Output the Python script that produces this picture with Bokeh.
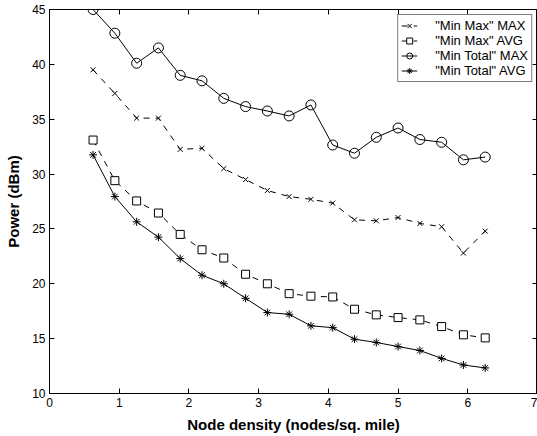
from bokeh.plotting import figure
from bokeh.models import LinearAxis, Range1d, FixedTicker, Legend, LegendItem
from bokeh.embed import file_html
from bokeh.resources import INLINE

x = [0.625, 0.9375, 1.25, 1.5625, 1.875, 2.1875, 2.5, 2.8125, 3.125, 3.4375,
     3.75, 4.0625, 4.375, 4.6875, 5.0, 5.3125, 5.625, 5.9375, 6.25]
minmax_max = [39.5, 37.35, 35.1, 35.1, 32.25, 32.35, 30.5, 29.5, 28.5, 27.95,
              27.7, 27.35, 25.83, 25.74, 26.04, 25.5, 25.2, 22.8, 24.8]
minmax_avg = [33.1, 29.4, 27.55, 26.45, 24.5, 23.1, 22.35, 20.87, 20.0, 19.1,
              18.87, 18.8, 17.68, 17.17, 16.92, 16.71, 16.1, 15.35, 15.07]
mintotal_max = [45.0, 42.84, 40.1, 41.5, 39.0, 38.5, 36.9, 36.15, 35.75, 35.3,
                36.3, 32.65, 31.9, 33.35, 34.2, 33.15, 32.9, 31.3, 31.55]
mintotal_avg = [31.75, 27.95, 25.65, 24.25, 22.3, 20.78, 20.0, 18.68, 17.38, 17.22,
                16.17, 16.0, 14.95, 14.65, 14.28, 13.92, 13.2, 12.6, 12.33]

x_ticks = [0, 1, 2, 3, 4, 5, 6, 7]
y_ticks = [10, 15, 20, 25, 30, 35, 40, 45]

FONT = "Liberation Sans"

p = figure(width=537, height=436, x_range=Range1d(0, 7), y_range=Range1d(10, 45),
           output_backend="svg", toolbar_location=None,
           min_border_left=49, min_border_right=0, min_border_top=9, min_border_bottom=43)
p.xgrid.visible = False
p.ygrid.visible = False
p.outline_line_color = "black"
p.outline_line_width = 1


def style_axis(ax, ticks, labels=True):
    ax.ticker = FixedTicker(ticks=ticks)
    ax.major_tick_in = 5
    ax.major_tick_out = 0
    ax.minor_tick_in = 0
    ax.minor_tick_out = 0
    ax.axis_line_color = "black"
    ax.major_tick_line_color = "black"
    ax.major_label_text_font = FONT
    ax.major_label_text_font_size = "12px"
    ax.major_label_text_color = "black"
    ax.axis_label_text_font = FONT
    ax.axis_label_text_font_size = "15px"
    ax.axis_label_text_font_style = "bold"
    ax.axis_label_text_color = "black"
    ax.major_label_standoff = 4
    if not labels:
        ax.major_label_overrides = {t: "" for t in ticks}
        ax.major_label_standoff = 0


p.xaxis.axis_label = "Node density (nodes/sq. mile)"
p.yaxis.axis_label = "Power (dBm)"
for ax in p.xaxis:
    style_axis(ax, x_ticks)
    ax.axis_label_standoff = 6
for ax in p.yaxis:
    style_axis(ax, y_ticks)
    ax.axis_label_standoff = 7

top = LinearAxis()
right = LinearAxis()
p.add_layout(top, "above")
p.add_layout(right, "right")
style_axis(top, x_ticks, labels=False)
style_axis(right, y_ticks, labels=False)

l1 = p.line(x, minmax_max, line_color="black", line_width=1, line_dash="6 6")
m1 = p.scatter(x, minmax_max, marker="x", size=7, line_color="black", line_width=1)
l2 = p.line(x, minmax_avg, line_color="black", line_width=1, line_dash="6 6")
m2 = p.scatter(x, minmax_avg, marker="square", size=8, line_color="black",
               fill_color="white", line_width=1)
l3 = p.line(x, mintotal_max, line_color="black", line_width=1)
m3 = p.scatter(x, mintotal_max, marker="circle", size=10, line_color="black",
               fill_color=None, line_width=1)
l4 = p.line(x, mintotal_avg, line_color="black", line_width=1)
m4 = p.scatter(x, mintotal_avg, marker="asterisk", size=8, line_color="black", line_width=1)

legend = Legend(items=[
    LegendItem(label='"Min Max" MAX', renderers=[l1, m1]),
    LegendItem(label='"Min Max" AVG', renderers=[l2, m2]),
    LegendItem(label='"Min Total" MAX', renderers=[l3, m3]),
    LegendItem(label='"Min Total" AVG', renderers=[l4, m4]),
], location="top_right")
legend.margin = 5
legend.padding = 3
legend.spacing = 0
legend.label_text_font = FONT
legend.label_text_font_size = "13px"
legend.label_text_color = "black"
legend.label_height = 15
legend.glyph_height = 15
legend.glyph_width = 16
legend.label_standoff = 18
legend.border_line_color = "black"
legend.border_line_width = 1
legend.background_fill_color = "white"
legend.background_fill_alpha = 1
p.add_layout(legend, "center")

open("out.html", "w").write(file_html(p, INLINE))
